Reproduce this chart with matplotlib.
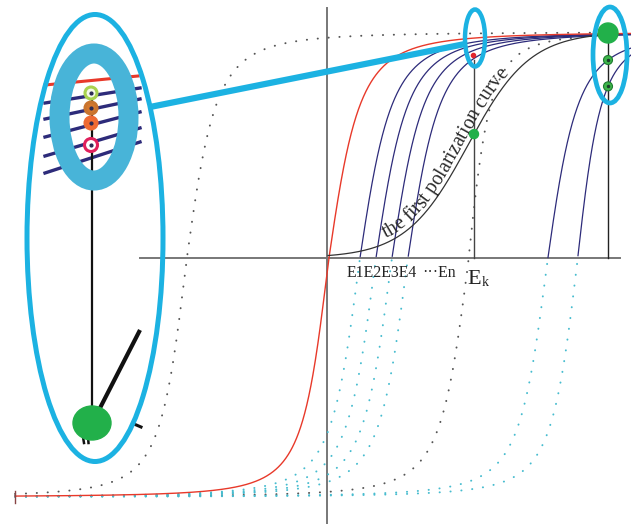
import numpy as np
import matplotlib.pyplot as plt
from matplotlib.patches import Ellipse
from matplotlib.font_manager import FontProperties
from matplotlib.textpath import TextPath

# canvas is worked in pixel units, y pointing down
W, H = 631, 524
AXIS_X, AXIS_Y = 327, 258
TOP_Y, BOT_Y = 32, 497
X_START, X_END = 15, 631

# ascending branches:
# crossing of the H axis, horizontal scale above / below that crossing
red_x0, red_w_up, red_w_dn = 328, 34, 28
minor_x0 = [359, 375, 391, 407]
minor_w_up = [35, 35, 35, 35]
minor_w_dn = [30, 30, 30, 30]
right_x0 = [547, 577]
right_w_up = [33, 26]
right_w_dn = [30, 28]
major_dot_x0, major_dot_w_up, major_dot_w_dn = 186, 32, 28
ek_dot_x0, ek_dot_w_up, ek_dot_w_dn = 468, 24, 30

# first polarization curve
virgin_center, virgin_width = 468, 62
EK_X, SAT_X = 474, 608

e_labels = "E1E2E3E4"
en_label = "\u00b7\u00b7\u00b7En"
curve_label = "the first polarization curve"

# zoomed inset, markers top to bottom
inset_marker_y = [93, 108, 123, 145]
inset_marker_face = ["#f4f9e8", "#d4782e", "#f26b32", "#ffffff"]
inset_marker_edge = ["#a9d24f", "#c9742e", "#ee6a34", "#e0205c"]
inset_navy_left = [103, 119, 137, 156, 173]
inset_navy_right = [88, 99, 112, 128, 142]

NAVY = "#2d2b7a"
RED = "#e8392a"
CYAN_DOT = "#46bccf"
GRAY_DOT = "#555555"
RING = "#48b4d8"
OUTLINE = "#1cb2e2"
GREEN = "#22b04a"
SERIF = "Liberation Serif"


def branch(x, x0, w_up, w_dn):
    dx = x - x0
    s = np.where(dx >= 0, dx / w_up, dx / w_dn)
    g = s / np.sqrt(1 + s**2)
    return (TOP_Y + BOT_Y) / 2 - (BOT_Y - TOP_Y) / 2 * g


def virgin(x):
    return (TOP_Y + AXIS_Y) / 2 - (AXIS_Y - TOP_Y) / 2 * np.tanh((x - virgin_center) / virgin_width)


def dotted(ax, x, y, color):
    ax.plot(x, y, color=color, lw=1.4, linestyle=(0, (0.1, 5.5)),
            dash_capstyle="round", zorder=2)


def char_advances(label, fp):
    # advance of each char at 10 pt, spaces included
    base = TextPath((0, 0), "xx", prop=fp, size=10).get_extents().width
    return np.array([TextPath((0, 0), "x" + c + "x", prop=fp, size=10).get_extents().width - base
                     for c in label])


def text_on_curve(ax, label, xs, ys, x_from, x_to, offset):
    dx, dy = np.gradient(xs), np.gradient(ys)
    seg = np.hypot(dx, dy)
    tx, ty = dx / seg, dy / seg
    ox, oy = xs + offset * ty, ys - offset * tx
    arc = np.concatenate([[0], np.cumsum(np.hypot(np.diff(ox), np.diff(oy)))])
    s0, s1 = np.interp(x_from, xs, arc), np.interp(x_to, xs, arc)

    fp = FontProperties(family=SERIF)
    adv = char_advances(label, fp)          # points at 10 pt
    scale = (s1 - s0) / (adv.sum() * 100 / 72)
    adv_px = adv * 100 / 72 * scale
    centers = s0 + np.cumsum(adv_px) - adv_px / 2
    for c, s in zip(label, centers):
        px, py = np.interp(s, arc, ox), np.interp(s, arc, oy)
        ang = np.degrees(np.arctan2(-np.interp(s, arc, ty), np.interp(s, arc, tx)))
        ax.text(px, py, c, family=SERIF, size=10 * scale, rotation=ang,
                rotation_mode="anchor", ha="center", va="baseline",
                color="#2a2a2a", zorder=4)


def main():
    fig = plt.figure(figsize=(W / 100, H / 100), dpi=100)
    ax = fig.add_axes([0, 0, 1, 1])
    ax.set_xlim(0, W)
    ax.set_ylim(H, 0)
    ax.axis("off")

    x = np.linspace(X_START, X_END, 1500)

    # axes of the E-H plane
    ax.plot([140, 620], [AXIS_Y, AXIS_Y], color="#777777", lw=1.4, zorder=1)
    ax.plot([AXIS_X, AXIS_X], [8, H], color="#777777", lw=1.4, zorder=1)

    # dotted descending-type branches
    dotted(ax, x[x < 600], branch(x[x < 600], major_dot_x0, major_dot_w_up, major_dot_w_dn), GRAY_DOT)
    dotted(ax, x[x < 595], branch(x[x < 595], ek_dot_x0, ek_dot_w_up, ek_dot_w_dn), GRAY_DOT)

    # minor loops: solid navy above the axis, cyan dots below
    for x0, wu, wd in zip(minor_x0 + right_x0, minor_w_up + right_w_up, minor_w_dn + right_w_dn):
        y = branch(x, x0, wu, wd)
        below = y >= AXIS_Y
        dotted(ax, x[below], y[below], CYAN_DOT)
        ax.plot(x[~below], y[~below], color=NAVY, lw=0.9, zorder=3)

    # major ascending branch
    ax.plot(x, branch(x, red_x0, red_w_up, red_w_dn), color=RED, lw=1.0, zorder=3)
    ax.plot([X_START, X_START], [491, 503], color="#884444", lw=1.0, zorder=3)

    # first polarization curve
    xv = np.linspace(AXIS_X + 1, SAT_X, 600)
    ax.plot(xv, virgin(xv), color="#333333", lw=0.9, zorder=3)
    text_on_curve(ax, curve_label, xv, virgin(xv), 388, 512, 4.5)

    # vertical guides at Ek and at saturation
    ax.plot([EK_X, EK_X], [AXIS_Y, 60], color="#444444", lw=1.0, zorder=3)
    ax.plot([SAT_X, SAT_X], [AXIS_Y, TOP_Y], color="#222222", lw=1.0, zorder=3)

    # labels
    ax.text(347, 277, e_labels, family=SERIF, size=11.3, color="#222222")
    ax.text(422, 277, en_label, family=SERIF, size=11.3, color="#222222")
    ax.text(467, 284, "E", family=SERIF, size=16, color="#222222")
    ax.text(482, 286, "k", family=SERIF, size=10, color="#222222")

    # markers on the right
    ax.add_patch(Ellipse((EK_X, virgin(EK_X)), 9, 9, color=GREEN, zorder=5))
    ax.add_patch(Ellipse((SAT_X, TOP_Y + 1), 20, 20, color=GREEN, zorder=5))
    for x0, wu, wd in zip(right_x0, right_w_up, right_w_dn):
        yd = branch(SAT_X, x0, wu, wd)
        ax.add_patch(Ellipse((SAT_X, yd), 9, 9, fc="#3db54a", ec="#1e7a30", lw=0.8, zorder=5))
        ax.plot(SAT_X, yd, "o", ms=1.5, color="#1b3b2a", zorder=6)
    ax.plot(EK_X - 1, 55, "o", ms=3, color="#e3262e", zorder=5)

    # highlight ellipses and connector
    ax.add_patch(Ellipse((EK_X + 1, 38), 20, 57, fill=False, ec=OUTLINE, lw=3.2, zorder=6))
    ax.add_patch(Ellipse((610, 55), 34, 96, fill=False, ec=OUTLINE, lw=3.4, zorder=6))
    ax.plot([150, 465], [107, 44], color=OUTLINE, lw=4.5, solid_capstyle="butt", zorder=6)

    # zoomed inset on the left
    ax.plot([45, 138], [85, 76], color=RED, lw=2.2, zorder=6)
    for yl, yr in zip(inset_navy_left, inset_navy_right):
        ax.plot([45, 140], [yl, yr], color=NAVY, lw=2.4, zorder=6)
    ax.plot([92, 92], [inset_marker_y[0], 422], color="#111111", lw=1.6, zorder=6)
    for yy, fc, ec in zip(inset_marker_y, inset_marker_face, inset_marker_edge):
        r = 13 if yy == inset_marker_y[-1] else 12
        ax.add_patch(Ellipse((91, yy), r, r, fc=fc, ec=ec, lw=2.2, zorder=7))
        ax.plot(91, yy, "o", ms=2, color="#2b2a55", zorder=8)
    ax.add_patch(Ellipse((94, 117), 69, 127, fill=False, ec=RING, lw=14.4, zorder=8))
    ax.add_patch(Ellipse((95, 238), 136, 447, fill=False, ec=OUTLINE, lw=3.6, zorder=8))

    ax.plot([140, 100], [330, 408], color="#111111", lw=3.0, solid_capstyle="butt", zorder=6)
    ax.plot([134, 141], [424, 427], color="#111111", lw=2.2, zorder=6)
    ax.plot([83, 84], [437, 443], color="#111111", lw=1.8, zorder=6)
    ax.plot([88, 88.5], [437, 443], color="#111111", lw=1.8, zorder=6)
    ax.add_patch(Ellipse((92, 423), 38, 34, color=GREEN, zorder=7))

    fig.savefig("out.png", dpi=100)


if __name__ == "__main__":
    main()
